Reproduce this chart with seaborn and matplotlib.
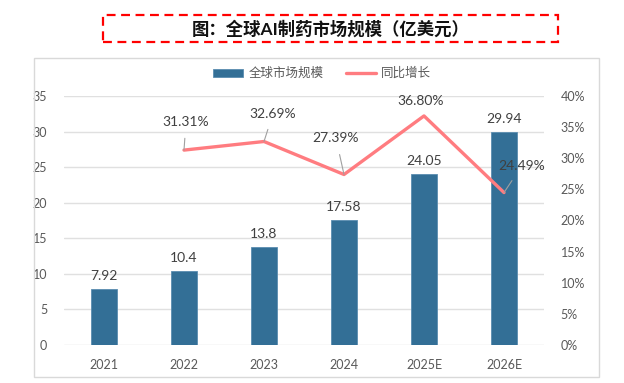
import matplotlib
matplotlib.use("Agg")
import matplotlib.pyplot as plt
import seaborn as sns
import pandas as pd
import numpy as np
from matplotlib.patches import Rectangle
from matplotlib.ticker import FuncFormatter

years = ["2021", "2022", "2023", "2024", "2025E", "2026E"]
market_size = [7.92, 10.4, 13.8, 17.58, 24.05, 29.94]
market_labels = ["7.92", "10.4", "13.8", "17.58", "24.05", "29.94"]
growth_years = ["2022", "2023", "2024", "2025E", "2026E"]
growth_pct = [31.31, 32.69, 27.39, 36.80, 24.49]
left_ticks = [0, 5, 10, 15, 20, 25, 30, 35]
right_ticks = [0, 5, 10, 15, 20, 25, 30, 35, 40]

title = "图：全球AI制药市场规模（亿美元）"
bar_name = "全球市场规模"
line_name = "同比增长"

sns.set_theme(style="white")
plt.rcParams['font.family'] = ['Lato', 'Noto Sans CJK SC', 'DejaVu Sans']

W, H = 624, 383
fig = plt.figure(figsize=(W / 100, H / 100), dpi=100)
ax = fig.add_axes([64 / W, 1 - 345 / H, (544 - 64) / W, (345 - 96) / H])

bar_color = "#336f96"
line_color = "#ff7c80"
tick_color = "#595959"

df = pd.DataFrame({"year": years, "size": market_size})
sns.barplot(data=df, x="year", y="size", color=bar_color, width=0.33,
            saturation=1, ax=ax, label=bar_name, edgecolor="#5b8db0", linewidth=0.6)
ax.set_xlim(-0.5, len(years) - 0.5)
ax.set_ylim(0, 35)
ax.set_yticks(left_ticks)
ax.yaxis.grid(True, color="#e0e0e0", lw=1.0)
ax.set_axisbelow(True)
for s in ax.spines.values():
    s.set_visible(False)
ax.set_xlabel("")
ax.set_ylabel("")
ax.tick_params(axis="both", colors=tick_color, labelsize=9, length=0)
ax.tick_params(axis="x", pad=10)
ax.tick_params(axis="y", pad=12)

for i, (v, lab) in enumerate(zip(market_size, market_labels)):
    ax.annotate(lab, (i, v), xytext=(0, 13), textcoords="offset pixels",
                ha="center", va="center", fontsize=10, color="#404040")

ax2 = ax.twinx()
gx = [years.index(y) for y in growth_years]
gdf = pd.DataFrame({"x": gx, "g": growth_pct})
sns.lineplot(data=gdf, x="x", y="g", color=line_color, lw=2.4, ax=ax2, label=line_name)
ax2.set_ylim(0, 40)
ax2.set_yticks(right_ticks)
ax2.yaxis.set_major_formatter(FuncFormatter(lambda v, p: f"{v:.0f}%"))
ax2.set_xlim(-0.5, len(years) - 0.5)
for s in ax2.spines.values():
    s.set_visible(False)
ax2.set_ylabel("")
ax2.set_xlabel("")
ax2.tick_params(axis="y", colors=tick_color, labelsize=9, length=0, pad=12)
if ax2.get_legend():
    ax2.get_legend().remove()
if ax.get_legend():
    ax.get_legend().remove()

offsets = [(2, 28, True), (9, 28, True), (-8, 36, True), (-3, 15, False), (18, 27, True)]
for x, g, (dx, dy, lead) in zip(gx, growth_pct, offsets):
    ap = dict(arrowstyle="-", color="#a0a0a0", lw=0.8, shrinkA=5, shrinkB=0) if lead else None
    ax2.annotate(f"{g:.2f}%", (x, g), xytext=(dx, dy), textcoords="offset pixels",
                 ha="center", va="center", fontsize=10, color="#404040", arrowprops=ap)

# legend
h1, l1 = ax.get_legend_handles_labels()
h2, l2 = ax2.get_legend_handles_labels()
fig.legend(h1 + h2, l1 + l2, loc="center", bbox_to_anchor=(322 / W, 1 - 73 / H), ncol=2,
           frameon=False, fontsize=9, handlelength=2.4, handleheight=0.6,
           columnspacing=1.8, handletextpad=0.4, labelcolor=tick_color)

# outer frame
fig.patches.append(Rectangle((34 / W, 1 - 377 / H), (599 - 34) / W, (377 - 58) / H,
                             transform=fig.transFigure, fill=False, edgecolor="#d9d9d9", lw=1))
# title box
fig.patches.append(Rectangle((103 / W, 1 - 42 / H), (558 - 103) / W, (42 - 15) / H,
                             transform=fig.transFigure, fill=False, edgecolor="#ff0000",
                             lw=1.6, linestyle=(0, (4, 2.5))))
fig.text(331 / W, 1 - 29 / H, title, ha="center", va="center", fontsize=12.5, fontweight="bold",
         color="#111111")

fig.savefig("out.png", dpi=100)
